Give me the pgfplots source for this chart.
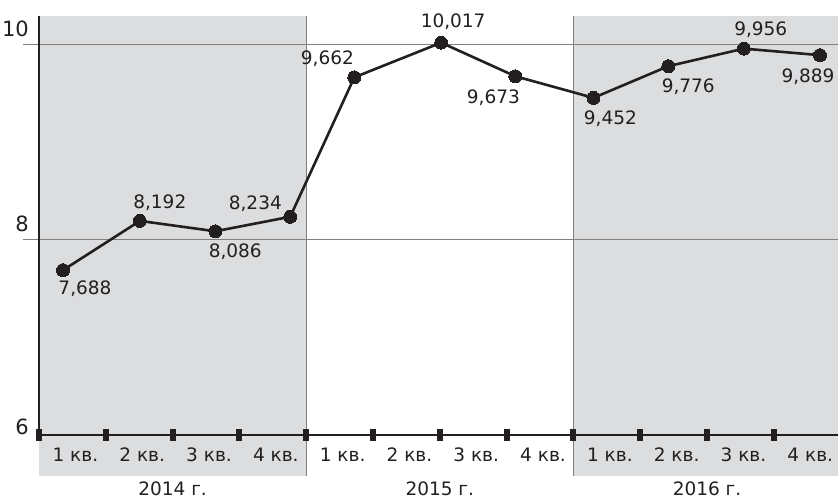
\documentclass[border=0pt]{standalone}
\usepackage{fontspec}
\setmainfont{DejaVu Sans}
\usepackage{pgfplots}
\usepackage{pgfplotstable}
\pgfplotsset{compat=1.18}

\definecolor{bgshade}{RGB}{220,221,223}
\definecolor{gridgray}{RGB}{128,128,128}
\definecolor{ink}{RGB}{35,31,32}

\newcommand\lblfont{\fontsize{18.5bp}{22bp}\selectfont}

% x = position in quarters, dx/dy = label offset (bp) from the point
\pgfplotstableread{
x     y      lbl    dx   dy
0.36  7.688  7,688  22  -24.5
1.51  8.192  8,192  20   12.5
2.64  8.086  8,086  20  -26.5
3.76  8.234  8,234 -35    7.5
4.72  9.662  9,662 -27   12.5
6.02  10.017 10,017 12   15.5
7.13  9.673  9,673 -22  -27.5
8.30  9.452  9,452  17  -26.5
9.42  9.776  9,776  20  -26.5
10.55 9.956  9,956  17   13.5
11.69 9.889  9,889 -12  -27.5
}\data

\begin{document}
\begin{tikzpicture}
\begin{axis}[
    set layers,
    scale only axis,
    width=799bp, height=419bp,
    xmin=0, xmax=11.96,
    ymin=6, ymax=10.29,
    clip=false,
    axis x line=bottom, axis y line=left,
    axis line style={-, ink, line width=2.6bp},
    xtick={0,...,11}, xticklabels={},
    xtick style={ink, line width=6bp},
    major tick length=12bp, tick align=center,
    extra x ticks={0.5,1.5,...,11.5},
    extra x tick labels={1 кв.,2 кв.,3 кв.,4 кв.,1 кв.,2 кв.,3 кв.,4 кв.,1 кв.,2 кв.,3 кв.,4 кв.},
    extra x tick style={major tick length=0pt,
        tick label style={anchor=base, inner sep=0pt, yshift=-26bp, xshift=3bp}},
    ytick={6,8,10},
    yticklabels={\raisebox{-7bp}{6},8,10},
    ytick style={draw=none},
    yticklabel style={anchor=base east, inner sep=0pt, xshift=-4bp, yshift=8bp,
        font=\fontsize{21bp}{25bp}\selectfont, text=ink},
    xticklabel style={font=\lblfont, text=ink},
]
\begin{pgfonlayer}{axis background}
  \fill[bgshade] (axis cs:0,5.58) rectangle (axis cs:4,10.29);
  \fill[bgshade] (axis cs:8,5.58) rectangle (axis cs:11.96,10.29);
  \draw[gridgray, line width=1.2bp] ([xshift=-16bp]axis cs:0,8) -- (axis cs:11.96,8);
  \draw[gridgray, line width=1.2bp] ([xshift=-16bp]axis cs:0,10) -- (axis cs:11.96,10);
  \draw[gridgray, line width=1.2bp] (axis cs:4,5.58) -- (axis cs:4,10.29);
  \draw[gridgray, line width=1.2bp] (axis cs:8,5.58) -- (axis cs:8,10.29);
\end{pgfonlayer}

\addplot[ink, line width=2.6bp,
    mark=*, mark size=6.5bp, mark options={fill=ink, draw=ink, line width=0pt},
    point meta=explicit symbolic,
    nodes near coords,
    visualization depends on={\thisrow{dx}\as\lblx},
    visualization depends on={\thisrow{dy}\as\lbly},
    every node near coord/.append style={anchor=base, inner sep=0pt,
        xshift=\lblx pt, yshift=\lbly pt, font=\lblfont, text=ink},
] table[x=x, y=y, meta=lbl] {\data};

\node[font=\lblfont, text=ink, anchor=base, inner sep=0pt] at ([yshift=-60bp]axis cs:2,6) {2014 г.};
\node[font=\lblfont, text=ink, anchor=base, inner sep=0pt] at ([yshift=-60bp]axis cs:6,6) {2015 г.};
\node[font=\lblfont, text=ink, anchor=base, inner sep=0pt] at ([yshift=-60bp]axis cs:10,6) {2016 г.};

\coordinate (bl) at (rel axis cs:0,0);
\coordinate (tr) at (rel axis cs:1,1);
\end{axis}
\pgfresetboundingbox
\path[use as bounding box] ([shift={(-39bp,-63bp)}]bl) rectangle ([shift={(0bp,16bp)}]tr);
\end{tikzpicture}
\end{document}
